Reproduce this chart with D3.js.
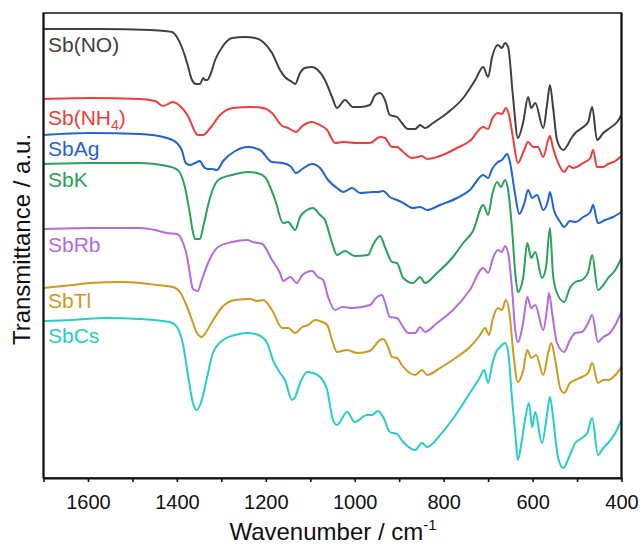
<!DOCTYPE html>
<html>
<head>
<meta charset="utf-8">
<script src="https://cdn.jsdelivr.net/npm/d3@7"></script>
<style>
  html, body { margin: 0; padding: 0; background: #fff; }
  svg { display: block; }
  text { font-family: "Liberation Sans", Arial, sans-serif; }
</style>
</head>
<body>
<svg id="chart" width="640" height="546"></svg>
<script>
// Wavenumber (cm^-1) and transmittance (a.u., vertically offset)
const seriesNames = ["Sb(NO)", "Sb(NH4)", "SbAg", "SbK", "SbRb", "SbTl", "SbCs"];
const seriesColors = ["#404040", "#f23b3b", "#1f63d6", "#27a25a", "#b36ae2", "#cf9a1c", "#25cdcd"];

const sbNO = [[1700,449],[1573,449],[1460,448],[1427,447],[1411,446],[1400,441],[1389,431],[1377,415],[1366,398],[1357,394],[1348,394],[1341,400],[1337,398],[1332,398],[1325,403],[1314,418],[1298,431],[1276,440],[1247,441],[1224,440],[1206,436],[1186,425],[1168,408],[1157,401],[1141,396],[1134,394],[1123,405],[1112,410],[1096,411],[1083,408],[1067,398],[1051,381],[1040,370],[1022,378],[1004,371],[988,371],[966,373],[954,383],[943,385],[932,378],[921,363],[905,361],[894,355],[880,349],[864,349],[853,353],[842,350],[824,355],[792,365],[756,380],[729,398],[711,411],[700,401],[691,421],[678,433],[669,430],[662,435],[655,431],[644,381],[633,340],[621,356],[610,381],[603,370],[594,375],[576,350],[567,375],[561,393],[554,371],[545,338],[531,328],[511,341],[504,345],[489,350],[475,356],[466,371],[455,338],[441,345],[426,350],[410,356],[400,363]];

const sbNH4 = [[1700,379],[1596,380],[1483,379],[1449,377],[1431,372],[1409,376],[1393,372],[1375,362],[1359,346],[1353,343],[1341,343],[1325,350],[1303,363],[1274,370],[1235,371],[1206,370],[1186,365],[1163,352],[1150,350],[1132,346],[1118,352],[1096,356],[1083,354],[1062,348],[1044,335],[1026,336],[995,335],[966,335],[943,341],[932,340],[916,331],[905,331],[891,326],[871,320],[858,321],[849,322],[837,319],[808,322],[770,330],[741,337],[711,351],[700,349],[691,359],[678,365],[669,364],[660,370],[653,363],[644,340],[633,315],[619,328],[610,336],[599,331],[588,331],[576,321],[565,338],[561,342],[554,330],[545,318],[529,306],[518,312],[509,310],[486,315],[470,320],[464,328],[455,311],[441,311],[430,314],[414,317],[400,322]];

const sbAg = [[1700,343],[1596,345],[1483,344],[1422,340],[1400,335],[1389,328],[1380,315],[1371,313],[1359,315],[1348,317],[1341,312],[1332,309],[1321,309],[1310,308],[1296,317],[1269,327],[1240,331],[1213,328],[1186,316],[1163,315],[1145,312],[1132,305],[1118,309],[1096,314],[1078,310],[1060,298],[1040,290],[1026,286],[1006,290],[988,285],[959,286],[948,286],[936,287],[921,281],[905,278],[891,275],[869,270],[853,271],[837,268],[808,273],[770,280],[741,288],[711,303],[700,300],[691,309],[678,316],[669,318],[657,324],[651,316],[639,283],[630,264],[619,274],[610,288],[601,280],[590,283],[576,268],[565,278],[561,286],[552,268],[538,256],[529,251],[516,257],[504,256],[486,261],[470,266],[464,273],[453,255],[437,258],[419,261],[400,266]];

const sbK = [[1700,314],[1596,315],[1483,315],[1422,312],[1398,308],[1382,291],[1371,265],[1364,246],[1359,239],[1348,239],[1341,251],[1325,281],[1307,298],[1276,303],[1240,306],[1220,305],[1202,301],[1179,278],[1161,255],[1150,256],[1134,248],[1123,261],[1107,268],[1094,270],[1078,263],[1067,258],[1051,235],[1040,223],[1022,227],[1000,222],[970,223],[959,233],[943,242],[932,231],[916,216],[905,215],[891,200],[869,195],[853,201],[842,195],[815,205],[779,221],[756,235],[734,247],[711,273],[700,263],[691,283],[680,296],[671,291],[662,298],[655,288],[646,248],[639,205],[633,186],[621,201],[612,235],[603,220],[594,226],[579,200],[570,210],[561,250],[554,203],[545,185],[529,176],[516,190],[504,196],[489,198],[475,206],[466,223],[453,188],[441,193],[430,200],[414,208],[400,220]];

const sbRb = [[1700,249],[1596,250],[1483,250],[1449,248],[1422,245],[1400,244],[1386,235],[1377,221],[1371,205],[1364,189],[1353,187],[1344,198],[1330,215],[1307,231],[1276,236],[1242,238],[1229,236],[1208,234],[1186,218],[1168,205],[1161,197],[1145,201],[1130,195],[1118,203],[1096,207],[1083,201],[1071,198],[1060,181],[1044,168],[1028,171],[1004,170],[966,173],[950,181],[939,183],[932,176],[921,161],[905,160],[894,153],[880,145],[864,145],[853,151],[842,146],[815,155],[779,168],[741,188],[711,210],[700,205],[689,220],[678,228],[669,226],[662,232],[655,225],[646,188],[639,148],[633,136],[621,156],[612,181],[603,170],[594,173],[576,148],[567,171],[563,185],[556,165],[545,135],[529,126],[516,138],[504,145],[489,146],[475,155],[466,163],[453,136],[441,141],[426,145],[414,153],[400,166]];

const sbTl = [[1700,190],[1634,193],[1596,195],[1521,196],[1483,195],[1445,193],[1409,191],[1393,186],[1377,171],[1366,158],[1355,145],[1344,141],[1339,143],[1321,156],[1298,171],[1269,178],[1235,179],[1220,177],[1206,178],[1186,168],[1163,150],[1150,150],[1134,145],[1118,151],[1105,153],[1089,158],[1073,156],[1062,153],[1051,138],[1040,126],[1017,128],[995,125],[966,127],[943,138],[936,139],[925,131],[916,121],[905,120],[894,113],[876,105],[864,103],[849,108],[837,103],[808,110],[770,121],[741,131],[718,143],[707,150],[698,143],[689,160],[678,170],[669,168],[660,178],[651,161],[644,128],[633,96],[621,108],[612,128],[603,120],[592,123],[576,103],[565,125],[558,135],[549,118],[538,90],[529,85],[516,95],[504,98],[489,101],[475,105],[466,115],[453,95],[441,98],[430,98],[414,103],[400,111]];

const sbCs = [[1700,157],[1634,158],[1557,160],[1483,159],[1416,156],[1400,151],[1386,133],[1375,103],[1364,75],[1355,68],[1344,78],[1332,101],[1319,125],[1296,138],[1269,143],[1242,145],[1217,143],[1197,135],[1184,118],[1168,105],[1157,98],[1141,78],[1134,81],[1123,95],[1107,106],[1094,105],[1078,101],[1062,88],[1049,58],[1040,53],[1017,66],[1000,56],[972,63],[961,63],[948,67],[936,61],[921,46],[905,44],[891,36],[864,28],[849,35],[837,31],[808,43],[770,65],[741,85],[718,101],[709,108],[700,95],[691,113],[682,126],[673,131],[662,135],[655,126],[646,78],[639,45],[633,18],[624,38],[617,58],[608,75],[601,51],[594,66],[579,35],[567,65],[561,81],[554,61],[543,21],[531,10],[516,23],[504,35],[489,40],[477,45],[466,60],[453,23],[441,30],[430,35],[414,45],[400,58]];

const seriesData = [sbNO, sbNH4, sbAg, sbK, sbRb, sbTl, sbCs];
const xTicks = [1600, 1400, 1200, 1000, 800, 600, 400];
const xMinorTicks = [1700, 1500, 1300, 1100, 900, 700, 500];
const xDomain = [1700, 400];
const yDomain = [0, 465];
const labelValues = [426, 353, 322, 291, 226, 170, 135]; // label baseline positions in a.u.

const svg = d3.select("#chart");
const plotLeft = 43.5, plotRight = 621.5, plotTop = 13, plotBottom = 478;

const x = d3.scaleLinear().domain(xDomain).range([plotLeft, plotRight]);
const y = d3.scaleLinear().domain(yDomain).range([plotBottom, plotTop]);

const line = d3.line()
  .x(d => x(d[0]))
  .y(d => y(d[1]))
  .curve(d3.curveMonotoneX);

svg.append("clipPath").attr("id", "clip")
  .append("rect").attr("x", plotLeft).attr("y", plotTop)
  .attr("width", plotRight - plotLeft).attr("height", plotBottom - plotTop);

const g = svg.append("g").attr("clip-path", "url(#clip)");
seriesData.forEach((data, i) => {
  g.append("path")
    .datum(data)
    .attr("fill", "none")
    .attr("stroke", seriesColors[i])
    .attr("stroke-width", 2)
    .attr("stroke-linejoin", "round")
    .attr("d", line);
});

// frame
svg.append("rect")
  .attr("x", plotLeft).attr("y", plotTop)
  .attr("width", plotRight - plotLeft).attr("height", plotBottom - plotTop)
  .attr("fill", "none").attr("stroke", "#222").attr("stroke-width", 1.6);

// x axis
const xAxis = d3.axisBottom(x).tickValues(xTicks).tickSize(4).tickSizeOuter(0).tickPadding(13).tickFormat(d3.format("d"));
const ax = svg.append("g").attr("transform", `translate(0,${plotBottom})`).call(xAxis);
ax.select(".domain").attr("stroke", "#111").attr("stroke-width", 2);
ax.selectAll(".tick line").attr("stroke", "#111").attr("stroke-width", 1.6);
ax.selectAll(".tick text").attr("font-size", 20).attr("fill", "#111").attr("font-family", "Liberation Sans, Arial, sans-serif");

const axMinor = d3.axisBottom(x).tickValues(xMinorTicks).tickSize(4).tickSizeOuter(0).tickFormat("");
const am = svg.append("g").attr("transform", `translate(0,${plotBottom})`).call(axMinor);
am.select(".domain").remove();
am.selectAll(".tick line").attr("stroke", "#111").attr("stroke-width", 1.6);

// left / right axis lines
svg.append("line").attr("x1", plotLeft).attr("x2", plotLeft).attr("y1", plotTop).attr("y2", plotBottom)
  .attr("stroke", "#111").attr("stroke-width", 2);
svg.append("line").attr("x1", plotRight).attr("x2", plotRight).attr("y1", plotTop).attr("y2", plotBottom)
  .attr("stroke", "#111").attr("stroke-width", 2);

// series labels
seriesNames.forEach((name, i) => {
  const t = svg.append("text")
    .attr("x", 48)
    .attr("y", y(labelValues[i]))
    .attr("font-size", 21)
    .attr("fill", seriesColors[i]);
  if (name === "Sb(NH4)") {
    t.append("tspan").text("Sb(NH");
    t.append("tspan").text("4").attr("font-size", 14).attr("dy", 5);
    t.append("tspan").text(")").attr("dy", -5);
  } else {
    t.text(name);
  }
});

// axis titles
svg.append("text")
  .attr("transform", `translate(30,${(plotTop + plotBottom) / 2 - 6}) rotate(-90)`)
  .attr("text-anchor", "middle")
  .attr("font-size", 24)
  .attr("fill", "#111")
  .text("Transmittance / a.u.");

const xt = svg.append("text")
  .attr("x", 333).attr("y", 540)
  .attr("text-anchor", "middle")
  .attr("font-size", 24)
  .attr("fill", "#111");
xt.append("tspan").text("Wavenumber / cm");
xt.append("tspan").text("-1").attr("font-size", 15).attr("dy", -10);
</script>
</body>
</html>
